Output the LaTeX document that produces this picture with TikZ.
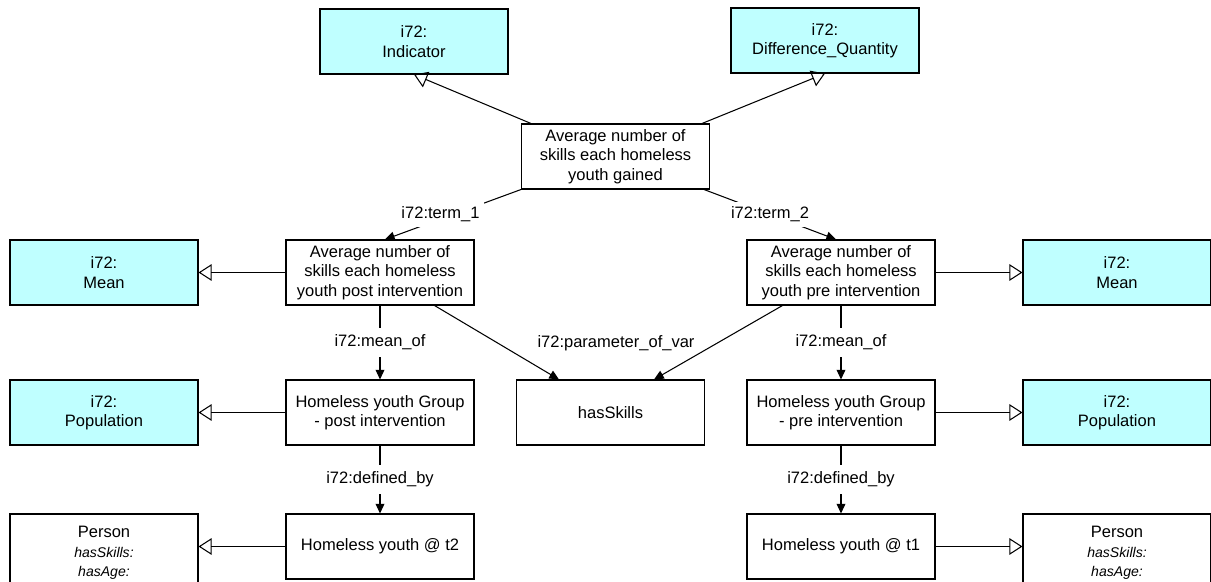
\documentclass[tikz,border=0pt]{standalone}
\usepackage{fontspec}
\setmainfont{Liberation Sans}
\usetikzlibrary{arrows.meta,positioning}
\definecolor{clsfill}{RGB}{191,255,255}
\tikzset{
  cbox/.style={rectangle, draw, line width=0.6pt, fill=clsfill, minimum width=3.76cm, minimum height=1.3cm, align=center, inner sep=2pt},
  ibox/.style={rectangle, draw, line width=0.6pt, fill=white, minimum width=3.76cm, minimum height=1.3cm, align=center, inner sep=2pt},
  pbox/.style={ibox, minimum height=1.56cm},
  elbl/.style={fill=white, inner sep=2.5pt},
  gen/.style={-{Triangle[open, length=7.5pt, width=9.5pt]}, line width=0.6pt},
  rel/.style={-{Triangle[length=5.5pt, width=5pt]}, line width=0.6pt},
}
\newcommand{\attr}[1]{{\itshape\fontsize{8}{10.2}\selectfont #1}}

\begin{document}
\begin{tikzpicture}[font=\fontsize{9.4}{11}\selectfont]
  \useasboundingbox (0,0) rectangle (24.22,-11.64);

  % --- Top: indicator and its classes ---
  \node[cbox] (ind) at (8.28,-0.83) {i72:\\Indicator};
  \node[cbox] (dq) at (16.5,-0.81) {i72:\\Difference\_Quantity};
  \node[ibox] (avg) at (12.31,-3.13) {Average number of\\skills each homeless\\youth gained};

  \draw[gen] ([xshift=0.2cm]avg.north west) -- (ind.south);
  \draw[gen] ([xshift=-0.16cm]avg.north east) -- (dq.south);

  % --- Means ---
  \node[cbox] (meanL) at (2.08,-5.45) {i72:\\Mean};
  \node[ibox] (post) at (7.6,-5.45) {Average number of\\skills each homeless\\youth post intervention};
  \node[ibox] (pre) at (16.82,-5.45) {Average number of\\skills each homeless\\youth pre intervention};
  \node[cbox] (meanR) at (22.34,-5.45) {i72:\\Mean};

  \draw[rel] (avg.south west) -- ([xshift=0.1cm]post.north)
    node[elbl, pos=0.5, xshift=-0.25cm] {i72:term\_1};
  \draw[rel] ([xshift=-0.12cm]avg.south east) -- ([xshift=-0.1cm]pre.north)
    node[elbl, midway] {i72:term\_2};
  \draw[gen] (post.west) -- (meanL.east);
  \draw[gen] (pre.east) -- (meanR.west);

  % --- Populations and variable ---
  \node[cbox] (popL) at (2.08,-8.25) {i72:\\Population};
  \node[ibox] (grpPost) at (7.6,-8.25) {Homeless youth Group\\- post intervention};
  \node[ibox] (hs) at (12.21,-8.25) {hasSkills};
  \node[ibox] (grpPre) at (16.82,-8.25) {Homeless youth Group\\- pre intervention};
  \node[cbox] (popR) at (22.34,-8.25) {i72:\\Population};

  \node (pvlbl) at (12.32,-6.86) {i72:parameter\_of\_var};

  \draw[rel] (post.south) -- (grpPost.north) node[elbl, inner sep=4pt, midway] {i72:mean\_of};
  \draw[rel] (pre.south) -- (grpPre.north) node[elbl, inner sep=4pt, midway] {i72:mean\_of};
  \draw[rel] ([xshift=-0.8cm]post.south east) -- ([xshift=0.86cm]hs.north west);
  \draw[rel] ([xshift=0.72cm]pre.south west) -- ([xshift=-1.02cm]hs.north east);
  \draw[gen] (grpPost.west) -- (popL.east);
  \draw[gen] (grpPre.east) -- (popR.west);

  % --- Bottom: persons ---
  \node[pbox] (personL) at (2.08,-11.06) {Person\\\attr{hasSkills:}\\\attr{hasAge:}};
  \node[ibox] (yt2) at (7.6,-10.93) {Homeless youth @ t2};
  \node[ibox] (yt1) at (16.82,-10.93) {Homeless youth @ t1};
  \node[pbox] (personR) at (22.34,-11.06) {Person\\\attr{hasSkills:}\\\attr{hasAge:}};

  \draw[rel] (grpPost.south) -- (yt2.north) node[elbl, inner sep=4pt, midway] {i72:defined\_by};
  \draw[rel] (grpPre.south) -- (yt1.north) node[elbl, inner sep=4pt, midway] {i72:defined\_by};
  \draw[gen] (yt2.west) -- (yt2.west -| personL.east);
  \draw[gen] (yt1.east) -- (yt1.east -| personR.west);
\end{tikzpicture}
\end{document}
